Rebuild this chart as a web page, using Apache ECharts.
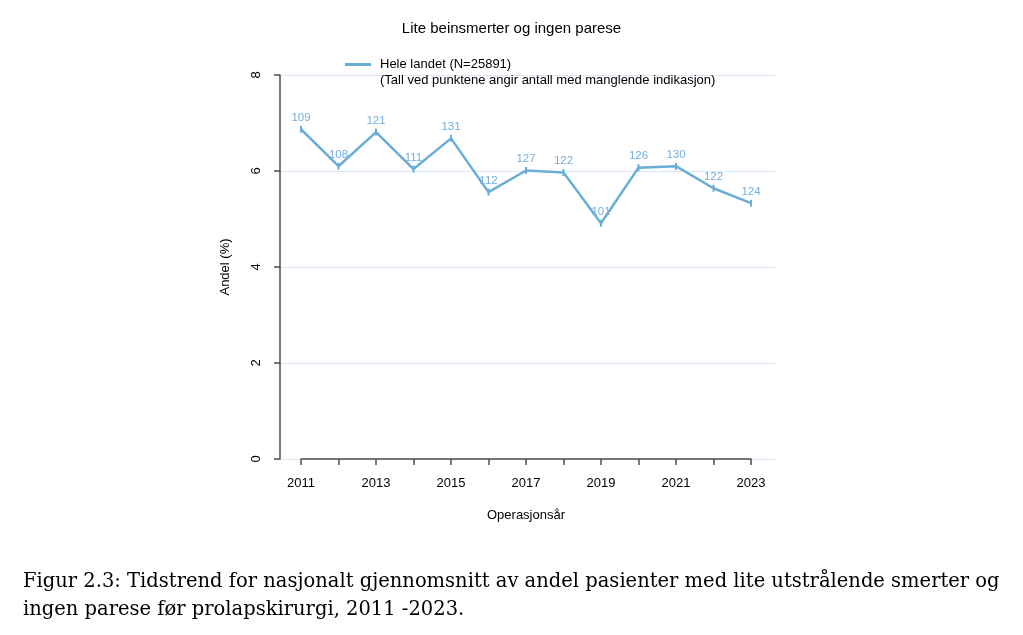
<!DOCTYPE html>
<html>
<head>
<meta charset="utf-8">
<script src="https://cdn.jsdelivr.net/npm/echarts@6/dist/echarts.min.js"></script>
<style>
html, body { margin: 0; padding: 0; background: #fff; }
#chart { width: 1023px; height: 635px; }
</style>
</head>
<body>
<div id="chart"></div>
<script>
// aar og verdier lest av figuren
var years = ['2011', '2012', '2013', '2014', '2015', '2016', '2017', '2018', '2019', '2020', '2021', '2022', '2023'];
var andel = [6.87, 6.10, 6.81, 6.04, 6.68, 5.56, 6.01, 5.97, 4.91, 6.07, 6.10, 5.64, 5.33];
// antall med manglende indikasjon (tall ved punktene)
var manglende = [109, 108, 121, 111, 131, 112, 127, 122, 101, 126, 130, 122, 124];
var yTicks = [0, 2, 4, 6, 8];

var lineColor = '#6aaed6';
var axisColor = '#4d4d4d';
var font = 'Liberation Sans';

var myChart = echarts.init(document.getElementById('chart'));
myChart.setOption({
    animation: false,
    title: [
        {
            text: 'Lite beinsmerter og ingen parese',
            left: 'center',
            top: 16,
            textStyle: {fontFamily: font, fontSize: 15, fontWeight: 'normal', color: '#000'}
        },
        {
            text: '(Tall ved punktene angir antall med manglende indikasjon)',
            left: 375,
            top: 69,
            textStyle: {fontFamily: font, fontSize: 13, fontWeight: 'normal', color: '#000'}
        },
        {
            text: 'Figur 2.3: Tidstrend for nasjonalt gjennomsnitt av andel pasienter med lite utstrålende smerter og',
            left: 18,
            top: 567,
            textStyle: {fontFamily: 'DejaVu Serif', fontSize: 19.5, fontWeight: 'normal', color: '#000'}
        },
        {
            text: 'ingen parese før prolapskirurgi, 2011 -2023.',
            left: 18,
            top: 595,
            textStyle: {fontFamily: 'DejaVu Serif', fontSize: 19.5, fontWeight: 'normal', color: '#000'}
        }
    ],
    legend: {
        left: 340,
        top: 53,
        itemWidth: 26,
        itemHeight: 3,
        itemGap: 8,
        icon: 'rect',
        textStyle: {fontFamily: font, fontSize: 13, color: '#000', padding: [0, 0, 0, 4]},
        data: [{name: 'Hele landet (N=25891)', itemStyle: {color: lineColor}}]
    },
    grid: [
        // data og x-akse (2011-2023)
        {left: 301, right: 272, top: 75, bottom: 176},
        // y-akse og rutenett
        {left: 280, right: 248, top: 75, bottom: 176}
    ],
    xAxis: [
        {
            type: 'category',
            gridIndex: 0,
            data: years,
            boundaryGap: false,
            name: 'Operasjonsår',
            nameLocation: 'middle',
            nameGap: 50,
            nameTextStyle: {fontFamily: font, fontSize: 13, color: '#000'},
            axisLine: {lineStyle: {color: axisColor, width: 1.5}},
            axisTick: {interval: 0, length: 6, lineStyle: {color: axisColor, width: 1.5}},
            axisLabel: {interval: 1, margin: 18, fontFamily: font, fontSize: 13, color: '#000'},
            splitLine: {show: false}
        },
        {
            type: 'value',
            gridIndex: 1,
            show: false
        }
    ],
    yAxis: [
        {
            type: 'value',
            gridIndex: 0,
            min: 0,
            max: 8,
            interval: 2,
            show: false
        },
        {
            type: 'value',
            gridIndex: 1,
            min: yTicks[0],
            max: yTicks[yTicks.length - 1],
            interval: 2,
            name: 'Andel (%)',
            nameLocation: 'middle',
            nameGap: 48,
            nameTextStyle: {fontFamily: font, fontSize: 13, color: '#000'},
            axisLine: {show: true, lineStyle: {color: axisColor, width: 1.5}},
            axisTick: {show: true, length: 6, lineStyle: {color: axisColor, width: 1.5}},
            axisLabel: {rotate: 90, margin: 17, fontFamily: font, fontSize: 13, color: '#000'},
            splitLine: {show: true, lineStyle: {color: '#d6e7f7', width: 1}}
        }
    ],
    series: [
        {
            name: 'Hele landet (N=25891)',
            type: 'line',
            xAxisIndex: 0,
            yAxisIndex: 0,
            data: andel.map(function (v, i) {
                return {value: v, label: {formatter: String(manglende[i])}};
            }),
            symbol: 'rect',
            symbolSize: [2, 7],
            itemStyle: {color: lineColor},
            lineStyle: {color: lineColor, width: 2.5},
            label: {
                show: true,
                position: 'top',
                distance: 2,
                fontFamily: font,
                fontSize: 11.5,
                color: '#72aee0'
            }
        }
    ]
});
</script>
</body>
</html>
